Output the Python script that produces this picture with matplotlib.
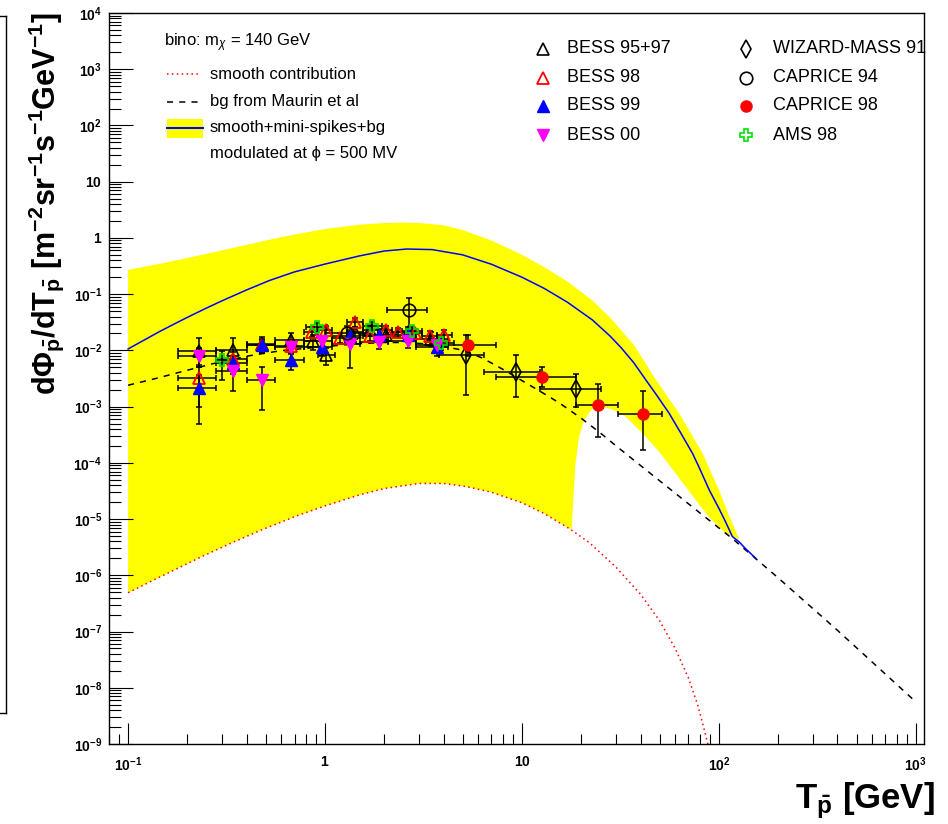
import matplotlib
matplotlib.use("Agg")
import matplotlib.pyplot as plt
from matplotlib.lines import Line2D
from matplotlib.patches import Rectangle
from matplotlib.ticker import LogLocator, FuncFormatter, NullFormatter
import numpy as np

plt.rcParams['font.family'] = ['Liberation Sans', 'DejaVu Sans']
plt.rcParams['mathtext.fontset'] = 'custom'
plt.rcParams['mathtext.rm'] = 'Liberation Sans'
plt.rcParams['mathtext.it'] = 'Liberation Sans:italic'
plt.rcParams['mathtext.bf'] = 'Liberation Sans:bold'

# ---- model curves ----
band_up_x = [0.1, 0.15, 0.2, 0.3, 0.5, 0.7, 1.0, 1.5, 2.0, 2.5, 3.0, 4.0, 5.0, 7.0, 10, 13,
             17, 22.8, 28.5, 37, 48, 62.8, 82.6, 100, 112, 127]
band_up_y = [0.27, 0.355, 0.44, 0.6, 0.9, 1.15, 1.44, 1.72, 1.84, 1.87, 1.84, 1.68, 1.38,
             0.9, 0.5, 0.3, 0.168, 0.077, 0.036, 0.0125, 2.97e-3, 7.6e-4, 1.48e-4, 3.3e-5,
             1.2e-5, 4.3e-6]

smooth_x = [0.1, 0.15, 0.23, 0.33, 0.47, 0.7, 1.0, 1.5, 2.0, 3.0, 4.0, 5.2, 7.0, 10, 13,
            17.6, 22, 30, 40, 50, 60, 70, 78, 85, 90]
smooth_y = [4.9e-7, 9.9e-7, 2.05e-6, 3.68e-6, 6.3e-6, 1.1e-5, 1.72e-5, 2.7e-5, 3.5e-5,
            4.3e-5, 4.3e-5, 3.8e-5, 3.0e-5, 1.95e-5, 1.25e-5, 6.6e-6, 3.8e-6, 1.4e-6,
            4.6e-7, 1.55e-7, 5e-8, 1.5e-8, 5e-9, 1.6e-9, 7e-10]

# lower edge of the band once it leaves the smooth curve (after ~17.6 GeV)
notch_x = [17.9, 18.2, 18.7, 19.5, 20.7, 22.8, 25.6, 29.4, 33.5, 40.8, 49.6, 60.3, 73.4,
           89.3, 108, 127]
notch_y = [6.8e-6, 2.0e-5, 9.8e-5, 2.9e-4, 5.8e-4, 9.3e-4, 1.0e-3, 8.6e-4, 6.7e-4,
           3.4e-4, 1.6e-4, 6.5e-5, 2.6e-5, 1.07e-5, 5.6e-6, 4.3e-6]

total_x = [0.1, 0.12, 0.144, 0.17, 0.2, 0.25, 0.3, 0.4, 0.52, 0.7, 1.0, 1.5, 2.0, 2.6, 3.5,
           5.0, 7.0, 10, 13, 17, 22.8, 28, 32, 37, 42.6, 48, 55.9, 64, 73.4, 80, 89.3,
           100, 108, 117, 127, 135, 154]
total_y = [0.0106, 0.0151, 0.0215, 0.029, 0.0387, 0.0566, 0.0762, 0.119, 0.174, 0.249,
           0.343, 0.48, 0.585, 0.635, 0.62, 0.5, 0.34, 0.2, 0.126, 0.072, 0.0347, 0.018,
           0.011, 6.0e-3, 2.97e-3, 1.65e-3, 7.6e-4, 3.4e-4, 1.48e-4, 7.8e-5, 3.3e-5,
           1.55e-5, 9e-6, 4.9e-6, 3.9e-6, 3.1e-6, 2.0e-6]

bg_x = [0.1, 0.14, 0.193, 0.28, 0.41, 0.6, 1.0, 1.5, 2.0, 2.6, 3.5, 5.0, 6.3, 8.0, 10,
        12.5, 15.5, 20, 25, 31.2, 50, 80, 117, 200, 400, 1000]
bg_y = [2.4e-3, 3.2e-3, 4.3e-3, 6.0e-3, 8.0e-3, 9.9e-3, 0.0117, 0.0132, 0.0138, 0.0138,
        0.0128, 0.0101, 7.3e-3, 4.6e-3, 2.9e-3, 1.83e-3, 1.16e-3, 6.2e-4, 3.4e-4, 1.8e-4,
        4.8e-5, 1.29e-5, 4.5e-6, 9.0e-7, 1.05e-7, 5.6e-9]

# ---- data points: centre, bin edges, error-bar ends ----
bess9597_x = [0.23, 0.34, 0.48, 0.67, 0.87, 1.01, 1.42, 1.69, 2.03, 2.63, 3.46]
bess9597_y = [9.8e-3, 1.0e-2, 1.3e-2, 1.55e-2, 1.45e-2, 8.2e-3, 2.1e-2, 2.3e-2, 1.9e-2, 2.1e-2, 1.6e-2]
bess9597_xlo = [0.18, 0.28, 0.40, 0.56, 0.78, 0.92, 1.30, 1.55, 1.85, 2.30, 2.90]
bess9597_xhi = [0.28, 0.40, 0.56, 0.78, 0.95, 1.12, 1.55, 1.85, 2.25, 2.95, 4.20]
bess9597_ylo = [5.1e-3, 6.0e-3, 9.0e-3, 1.1e-2, 1.0e-2, 5.5e-3, 1.6e-2, 1.8e-2, 1.5e-2, 1.6e-2, 1.2e-2]
bess9597_yhi = [1.68e-2, 1.64e-2, 1.7e-2, 2.0e-2, 1.9e-2, 1.1e-2, 2.6e-2, 2.8e-2, 2.4e-2, 2.6e-2, 2.1e-2]

bess98_x = [0.23, 0.34, 0.48, 0.67, 0.86, 1.01, 1.19, 1.42, 1.69, 2.03, 2.36, 2.86, 3.4, 4.0]
bess98_y = [3.2e-3, 6.9e-3, 1.24e-2, 1.2e-2, 2.15e-2, 2.28e-2, 1.68e-2, 3.2e-2, 1.77e-2,
            2.28e-2, 2.15e-2, 2.0e-2, 1.83e-2, 1.9e-2]
bess98_xlo = [0.18, 0.28, 0.40, 0.56, 0.78, 0.92, 1.08, 1.30, 1.55, 1.85, 2.20, 2.60, 3.10, 3.70]
bess98_xhi = [0.28, 0.40, 0.56, 0.78, 0.92, 1.08, 1.30, 1.55, 1.85, 2.20, 2.60, 3.10, 3.70, 4.40]
bess98_ylo = [1.0e-3, 4.5e-3, 9.5e-3, 9e-3, 1.7e-2, 1.8e-2, 1.35e-2, 2.6e-2, 1.45e-2,
              1.85e-2, 1.75e-2, 1.6e-2, 1.45e-2, 1.45e-2]
bess98_yhi = [5.4e-3, 9.5e-3, 1.55e-2, 1.5e-2, 2.6e-2, 2.75e-2, 2.0e-2, 3.8e-2, 2.1e-2,
              2.7e-2, 2.55e-2, 2.4e-2, 2.2e-2, 2.35e-2]

bess99_x = [0.23, 0.34, 0.48, 0.67, 0.96, 1.34, 1.88, 2.63, 3.7]
bess99_y = [2.1e-3, 5.9e-3, 1.24e-2, 6.7e-3, 1.16e-2, 1.77e-2, 1.9e-2, 1.9e-2, 1.16e-2]
bess99_xlo = [0.18, 0.28, 0.40, 0.56, 0.78, 1.08, 1.50, 2.10, 2.90]
bess99_xhi = [0.28, 0.40, 0.56, 0.78, 1.08, 1.50, 2.10, 2.90, 4.20]
bess99_ylo = [4.9e-4, 3.8e-3, 9e-3, 4.4e-3, 8e-3, 1.3e-2, 1.45e-2, 1.45e-2, 8e-3]
bess99_yhi = [3.7e-3, 8e-3, 1.6e-2, 9e-3, 1.55e-2, 2.3e-2, 2.4e-2, 2.4e-2, 1.55e-2]

bess00_x = [0.23, 0.34, 0.48, 0.67, 0.96, 1.34, 1.88, 2.63, 3.7]
bess00_y = [8.1e-3, 4.3e-3, 3.0e-3, 1.13e-2, 1.46e-2, 1.3e-2, 1.4e-2, 1.45e-2, 1.24e-2]
bess00_xlo = [0.18, 0.28, 0.40, 0.56, 0.78, 1.08, 1.50, 2.10, 2.90]
bess00_xhi = [0.28, 0.40, 0.56, 0.78, 1.08, 1.50, 2.10, 2.90, 4.20]
bess00_ylo = [5.0e-3, 1.9e-3, 8.8e-4, 8.5e-3, 1.1e-2, 4.9e-3, 1.05e-2, 1.1e-2, 9e-3]
bess00_yhi = [1.1e-2, 6.4e-3, 5.1e-3, 1.4e-2, 1.8e-2, 2.1e-2, 1.75e-2, 1.8e-2, 1.6e-2]

ams98_x = [0.30, 0.91, 1.74, 2.77, 3.9]
ams98_y = [6.7e-3, 2.6e-2, 2.75e-2, 2.2e-2, 1.35e-2]
ams98_xlo = [0.28, 0.80, 1.55, 2.45, 3.4]
ams98_xhi = [0.32, 1.02, 1.95, 3.10, 4.5]
ams98_ylo = [3.0e-3, 2.1e-2, 2.25e-2, 1.75e-2, 1.0e-2]
ams98_yhi = [9.8e-3, 3.1e-2, 3.25e-2, 2.65e-2, 1.7e-2]

caprice94_x = [1.3, 2.68]
caprice94_y = [0.020, 0.052]
caprice94_xlo = [1.0, 2.07]
caprice94_xhi = [1.7, 3.3]
caprice94_ylo = [0.014, 0.017]
caprice94_yhi = [0.027, 0.087]

caprice98_x = [5.3, 12.7, 24.2, 41.3]
caprice98_y = [1.24e-2, 3.36e-3, 1.07e-3, 7.4e-4]
caprice98_xlo = [3.8, 7.4, 18.8, 30.7]
caprice98_xhi = [7.4, 18.8, 30.7, 51.6]
caprice98_ylo = [8.0e-3, 2.2e-3, 2.9e-4, 1.66e-4]
caprice98_yhi = [1.84e-2, 5.1e-3, 2.5e-3, 1.9e-3]

wizard_x = [5.2, 9.3, 18.7]
wizard_y = [8.2e-3, 4.07e-3, 2.06e-3]
wizard_xlo = [3.8, 6.4, 12.3]
wizard_xhi = [6.4, 12.3, 25.3]
wizard_ylo = [1.6e-3, 1.5e-3, 9.8e-4]
wizard_yhi = [1.84e-2, 8.2e-3, 3.8e-3]

fig = plt.figure(figsize=(9.48, 8.24), dpi=100)
ax = fig.add_axes([109 / 948, 80 / 824, 815 / 948, 731 / 824])
ax.set_xscale('log')
ax.set_yscale('log')
ax.set_xlim(0.08, 1100)
ax.set_ylim(1e-9, 1e4)

# band: upper edge, then back along the notch and the smooth curve
n_sm = smooth_x.index(17.6) + 1
lo_x = smooth_x[:n_sm] + notch_x
lo_y = smooth_y[:n_sm] + notch_y
ax.fill(band_up_x + lo_x[::-1], band_up_y + lo_y[::-1], color='#ffff00', lw=0, zorder=1)
ax.plot(smooth_x, smooth_y, color='#ff0000', ls=(0, (1, 2.2)), lw=1.1, zorder=2)
ax.plot(bg_x, bg_y, color='k', ls=(0, (4, 4)), lw=1.1, zorder=2)
ax.plot(total_x, total_y, color='#0000ff', lw=1.1, zorder=3)

series = [
    (bess9597_x, bess9597_y, bess9597_xlo, bess9597_xhi, bess9597_ylo, bess9597_yhi,
     dict(marker='^', mfc='none', mec='k', ms=8, mew=1.2), 'BESS 95+97'),
    (bess98_x, bess98_y, bess98_xlo, bess98_xhi, bess98_ylo, bess98_yhi,
     dict(marker='^', mfc='none', mec='#ff0000', ms=8, mew=1.3), 'BESS 98'),
    (bess99_x, bess99_y, bess99_xlo, bess99_xhi, bess99_ylo, bess99_yhi,
     dict(marker='^', mfc='#0000ff', mec='#0000ff', ms=8), 'BESS 99'),
    (bess00_x, bess00_y, bess00_xlo, bess00_xhi, bess00_ylo, bess00_yhi,
     dict(marker='v', mfc='#ff00ff', mec='#ff00ff', ms=8), 'BESS 00'),
    (wizard_x, wizard_y, wizard_xlo, wizard_xhi, wizard_ylo, wizard_yhi,
     dict(marker='d', mfc='none', mec='k', ms=9, mew=1.2), 'WIZARD-MASS 91'),
    (caprice94_x, caprice94_y, caprice94_xlo, caprice94_xhi, caprice94_ylo, caprice94_yhi,
     dict(marker='o', mfc='none', mec='k', ms=9, mew=1.2), 'CAPRICE 94'),
    (caprice98_x, caprice98_y, caprice98_xlo, caprice98_xhi, caprice98_ylo, caprice98_yhi,
     dict(marker='o', mfc='#ff0000', mec='#ff0000', ms=8), 'CAPRICE 98'),
    (ams98_x, ams98_y, ams98_xlo, ams98_xhi, ams98_ylo, ams98_yhi,
     dict(marker='P', mfc='none', mec='#00e000', ms=8, mew=1.2), 'AMS 98'),
]

for x, y, xlo, xhi, ylo, yhi, mk, name in series:
    x = np.array(x); y = np.array(y)
    ax.errorbar(x, y, xerr=[x - np.array(xlo), np.array(xhi) - x],
                yerr=[y - np.array(ylo), np.array(yhi) - y],
                fmt='none', ecolor='k', elinewidth=1.1, capsize=2.5, capthick=1.1, zorder=4)
    ax.plot(x, y, ls='none', zorder=5, **mk)

# legend on the right, two columns
leg_rows = [0.9508, 0.9115, 0.8728, 0.8331]
for i, (x, y, xlo, xhi, ylo, yhi, mk, name) in enumerate(series):
    col = i // 4
    mx = [0.5325, 0.7816][col]
    tx = [0.5620, 0.8147][col]
    ty = leg_rows[i % 4]
    ax.plot([mx], [ty], transform=ax.transAxes, clip_on=False, ls='none', **mk)
    ax.text(tx, ty, name, transform=ax.transAxes, fontsize=13, va='center', ha='left')

# legend on the left
ax.text(0.0675, 0.9589, r'bino: m$_{\chi}$ = 140 GeV', transform=ax.transAxes,
        fontsize=12, va='center')
ax.plot([0.0712, 0.1092], [0.9161, 0.9161], transform=ax.transAxes, color='#ff0000',
        ls=(0, (1, 2.2)), lw=1.1)
ax.text(0.1239, 0.9161, 'smooth contribution', transform=ax.transAxes, fontsize=12, va='center')
ax.plot([0.0712, 0.1135], [0.8787, 0.8787], transform=ax.transAxes, color='k',
        ls=(0, (4, 4)), lw=1.1)
ax.text(0.1239, 0.8787, 'bg from Maurin et al', transform=ax.transAxes, fontsize=12, va='center')
ax.add_patch(Rectangle((0.0712, 0.8294), 0.0442, 0.0256, transform=ax.transAxes,
                       facecolor='#ffff00', edgecolor='none'))
ax.plot([0.0712, 0.1154], [0.8427, 0.8427], transform=ax.transAxes, color='#0000ff', lw=1.5)
ax.text(0.1239, 0.8434, 'smooth+mini-spikes+bg', transform=ax.transAxes, fontsize=12, va='center')
ax.text(0.1239, 0.8081, 'modulated at \u03d5 = 500 MV', transform=ax.transAxes,
        fontsize=12, va='center')


def log_label(v, pos):
    e = int(round(np.log10(v)))
    if e == 0:
        return r'$\mathbf{1}$'
    if e == 1:
        return r'$\mathbf{10}$'
    return r'$\mathbf{10^{%d}}$' % e


for axis in (ax.xaxis, ax.yaxis):
    axis.set_major_locator(LogLocator(base=10, numticks=30))
    axis.set_minor_locator(LogLocator(base=10, subs=np.arange(2, 10), numticks=30))
    axis.set_major_formatter(FuncFormatter(log_label))
    axis.set_minor_formatter(NullFormatter())

ax.tick_params(which='both', direction='in', top=False, right=False, width=0.8, labelsize=10)
ax.tick_params(axis='y', which='major', length=17, pad=5)
ax.tick_params(axis='y', which='minor', length=8.5)
ax.tick_params(axis='x', which='major', length=15, pad=8)
ax.tick_params(axis='x', which='minor', length=7.5)
for s in ax.spines.values():
    s.set_linewidth(1.0)

fig.text(46 / 948, 1 - 12 / 824,
         r'$\mathbf{d\Phi_{\bar{p}}/dT_{\bar{p}}\ [m^{-2}sr^{-1}s^{-1}GeV^{-1}]}$',
         rotation=90, ha='center', va='top', fontsize=22)
fig.text(935 / 948, 3 / 824, r'$\mathbf{T_{\bar{p}}\ [GeV]}$', ha='right', va='bottom',
         fontsize=25)

# leftover frame edge at the far left
for xs, ys in [([6, 6], [16, 713]), ([0, 6], [16, 16]), ([0, 6], [713, 713])]:
    fig.add_artist(Line2D([v / 948 for v in xs], [1 - v / 824 for v in ys],
                          transform=fig.transFigure, color='k', lw=1.0))

fig.savefig('out.png', dpi=100)
